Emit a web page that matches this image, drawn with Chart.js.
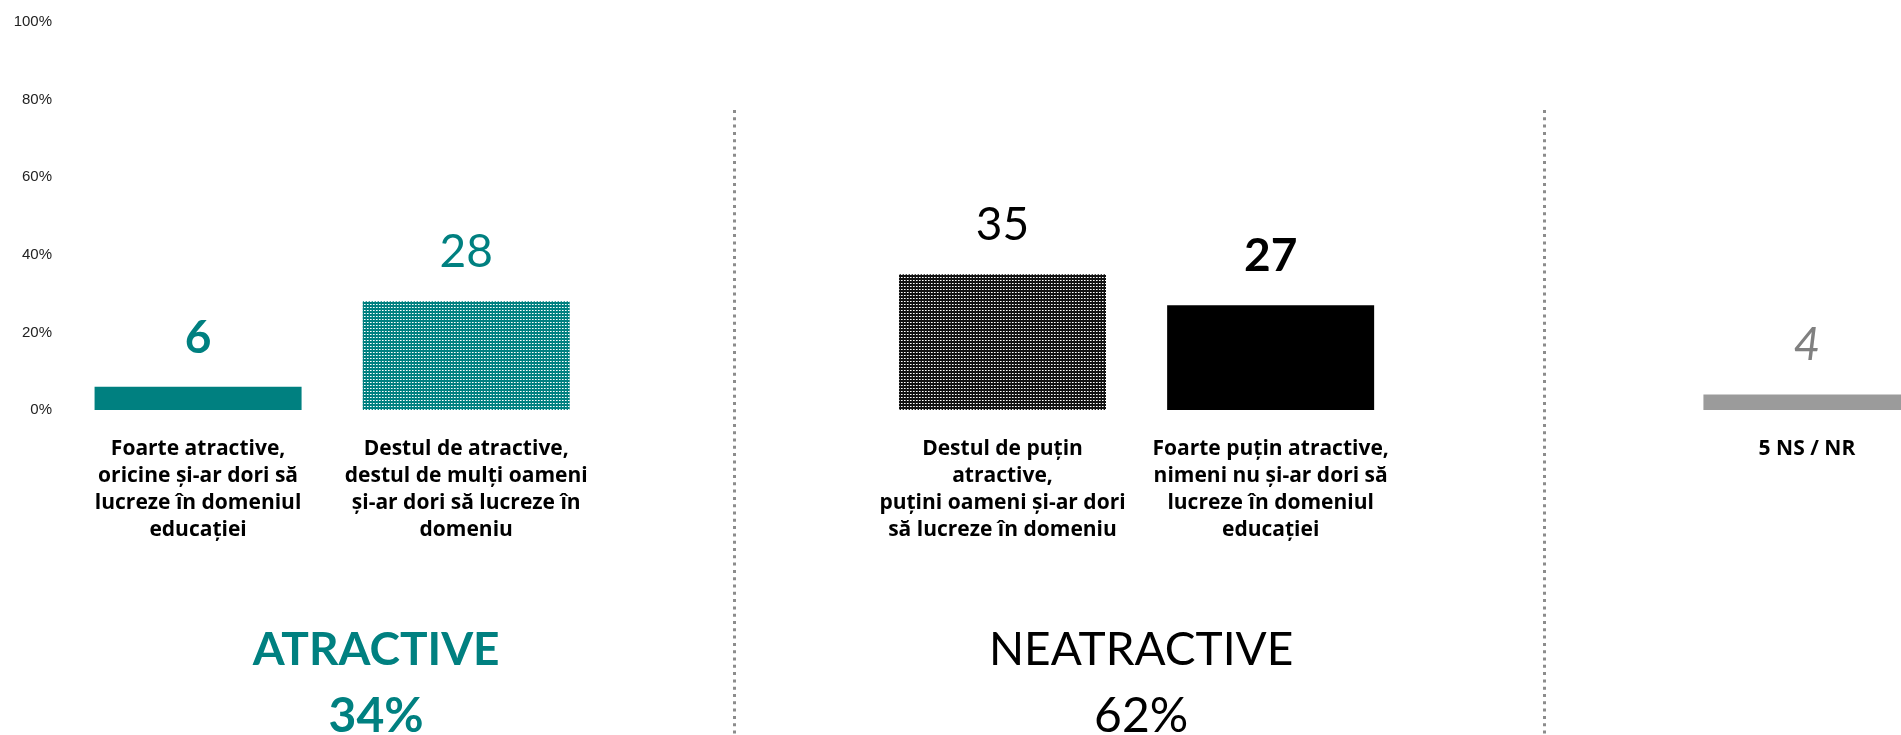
<!DOCTYPE html>
<html>
<head>
<meta charset="utf-8">
<title>Atractivitatea domeniului educației</title>
<script src="https://cdn.jsdelivr.net/npm/chart.js"></script>
<style>
    html, body { margin: 0; padding: 0; background: #fff; overflow: hidden; }
    #wrap { width: 1901px; height: 735px; overflow: hidden; }
</style>
</head>
<body>
<div id="wrap"><canvas id="chartAtract" width="1941" height="735"></canvas></div>
<script>
// data
const categories = [
    ['Foarte atractive,', 'oricine și-ar dori să', 'lucreze în domeniul', 'educației'],
    ['Destul de atractive,', 'destul de mulți oameni', 'și-ar dori să lucreze în', 'domeniu'],
    '',
    ['Destul de puțin', 'atractive,', 'puțini oameni și-ar dori', 'să lucreze în domeniu'],
    ['Foarte puțin atractive,', 'nimeni nu și-ar dori să', 'lucreze în domeniul', 'educației'],
    '',
    '5 NS / NR'
];
const values = [6, 28, null, 35, 27, null, 4];
const yTicks = [0, 20, 40, 60, 80, 100];
const groupNames = ['ATRACTIVE', 'NEATRACTIVE'];
const groupTotals = [34, 62];

// styles
const teal = '#008080';
const valueColors = [teal, teal, null, '#000000', '#000000', null, '#808080'];
const valueFonts = [
    'bold 46px Lato', '46px Lato', null, '46px Lato', 'bold 46px Lato', null, 'italic 46px Lato'
];
const groupAnchor = [0.664, 3.517];     // x position, in category units
const groupColors = [teal, '#000000'];
const groupFonts = ['bold 46px Lato', '46px Lato'];
const groupPctFonts = ['bold 48px Lato', '48px Lato'];
const separatorAt = [2, 5.02];

const canvas = document.getElementById('chartAtract');
const ctx = canvas.getContext('2d');

// dotted fill for the "destul de" bars
function dotPattern(bg) {
    const tile = document.createElement('canvas');
    tile.width = 3;
    tile.height = 3;
    const t = tile.getContext('2d');
    t.fillStyle = bg;
    t.fillRect(0, 0, 3, 3);
    t.fillStyle = '#ffffff';
    t.fillRect(1, 1, 1, 1);
    t.fillStyle = 'rgba(255,255,255,0.6)';
    t.fillRect(2, 1, 1, 1);
    return ctx.createPattern(tile, 'repeat');
}

const barColors = [teal, dotPattern(teal), null, dotPattern('#111111'), '#000000', null, '#9b9b9b'];

const overlay = {
    id: 'overlay',
    afterDatasetsDraw(chart) {
        const c = chart.ctx;
        const x = chart.scales.x;
        const area = chart.chartArea;
        const meta = chart.getDatasetMeta(0);
        c.save();

        // dotted separators between groups
        c.strokeStyle = '#8c8c8c';
        c.lineWidth = 3;
        c.setLineDash([3, 4.3]);
        separatorAt.forEach(v => {
            const px = Math.round(x.getPixelForValue(v)) + 0.5;
            c.beginPath();
            c.moveTo(px, 110);
            c.lineTo(px, chart.height);
            c.stroke();
        });
        c.setLineDash([]);

        // value labels above bars
        c.textAlign = 'center';
        c.textBaseline = 'alphabetic';
        meta.data.forEach((bar, i) => {
            if (values[i] == null) return;
            c.font = valueFonts[i];
            c.fillStyle = valueColors[i];
            c.fillText(String(values[i]), bar.x, bar.y - 34);
        });

        // group totals
        groupNames.forEach((name, g) => {
            const cx = x.getPixelForValue(groupAnchor[g]);
            c.fillStyle = groupColors[g];
            c.font = groupFonts[g];
            c.fillText(name, cx, area.bottom + 255);
            c.font = groupPctFonts[g];
            c.fillText(groupTotals[g] + '%', cx, area.bottom + 322);
        });
        c.restore();
    }
};

const chartAtract = new Chart(canvas, {
    type: 'bar',
    data: {
        labels: categories,
        datasets: [{
            data: values,
            backgroundColor: barColors,
            borderWidth: 0,
            categoryPercentage: 1,
            barPercentage: 0.772
        }]
    },
    options: {
        responsive: false,
        animation: false,
        layout: {
            padding: {top: 22, left: 0, right: 0, bottom: 0}
        },
        scales: {
            y: {
                min: yTicks[0],
                max: yTicks[yTicks.length - 1],
                afterBuildTicks: function (scale) {
                    scale.ticks = yTicks.map(v => ({value: v}));
                },
                afterFit: function (scale) {
                    scale.width = 64;
                },
                grid: {display: false, drawTicks: false},
                border: {display: false},
                ticks: {
                    padding: 12,
                    color: '#222222',
                    font: {family: 'Liberation Sans', size: 15},
                    callback: function (value) {
                        return value + '%';
                    }
                }
            },
            x: {
                afterFit: function (scale) {
                    scale.height = 325;
                },
                grid: {display: false, drawTicks: false},
                border: {display: false},
                ticks: {
                    autoSkip: false,
                    maxRotation: 0,
                    padding: 26,
                    color: '#000000',
                    font: {family: 'Open Sans', size: 21, weight: 'bold', lineHeight: 27 / 21}
                }
            }
        },
        plugins: {
            legend: {display: false},
            tooltip: {enabled: false}
        }
    },
    plugins: [overlay]
});
</script>
</body>
</html>
